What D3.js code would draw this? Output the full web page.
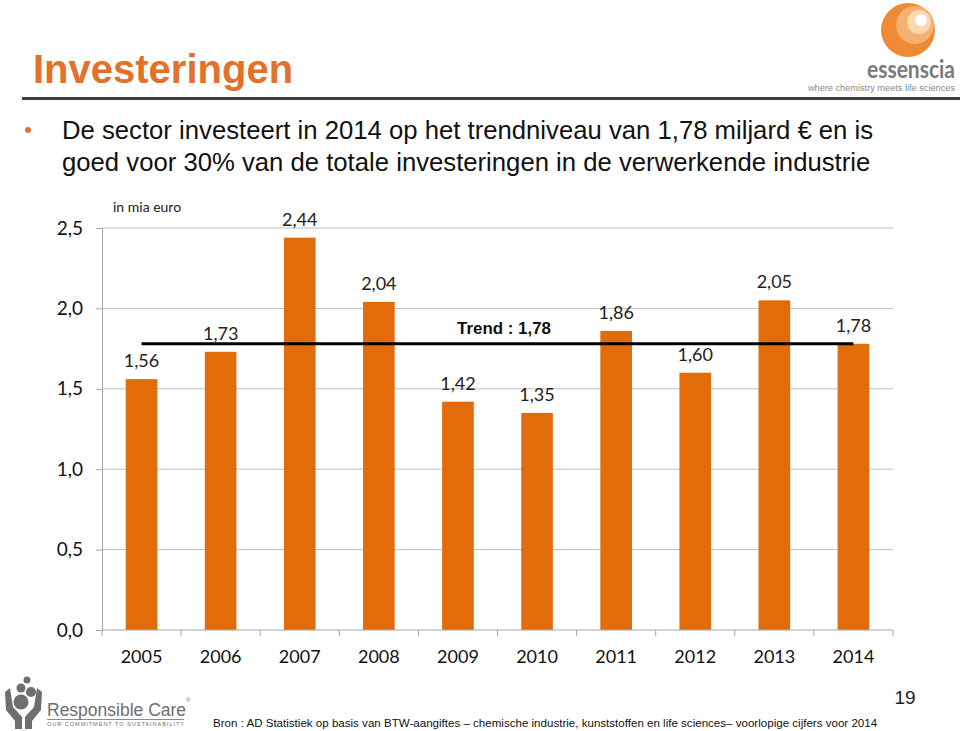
<!DOCTYPE html>
<html>
<head>
<meta charset="utf-8">
<script src="https://cdn.jsdelivr.net/npm/d3@7"></script>
<style>
  html, body { margin: 0; padding: 0; background: #fff; }
  svg { display: block; }
</style>
</head>
<body>
<svg id="chart" width="960" height="731"></svg>
<script>
// ---- data ----
const years = ["2005","2006","2007","2008","2009","2010","2011","2012","2013","2014"];
const values = [1.56, 1.73, 2.44, 2.04, 1.42, 1.35, 1.86, 1.60, 2.05, 1.78];
const trendValue = 1.78;
const yTicks = [0, 0.5, 1.0, 1.5, 2.0, 2.5];

(function () {
const svg = d3.select("#chart");
const fmt = v => d3.format(".2f")(v).replace(".", ",");
const fmt1 = v => d3.format(".1f")(v).replace(".", ",");

const calibri = "Lato, 'Open Sans', sans-serif";
const arial = "'Liberation Sans', Arial, sans-serif";
const orange = "#E36C0A";

// ---- header ----
svg.append("text").attr("x", 33).attr("y", 83)
  .attr("font-family", arial).attr("font-weight", "bold").attr("font-size", 40)
  .attr("fill", "#E2712A").text("Investeringen");
svg.append("rect").attr("x", 22).attr("y", 97).attr("width", 938).attr("height", 3).attr("fill", "#404040");

// bullet text
svg.append("circle").attr("cx", 28).attr("cy", 130).attr("r", 3).attr("fill", "#E2712A");
svg.append("text").attr("x", 62).attr("y", 139)
  .attr("font-family", arial).attr("font-size", 25.7).attr("fill", "#111")
  .text("De sector investeert in 2014 op het trendniveau van 1,78 miljard € en is");
svg.append("text").attr("x", 62).attr("y", 171)
  .attr("font-family", arial).attr("font-size", 25.7).attr("fill", "#111")
  .text("goed voor 30% van de totale investeringen in de verwerkende industrie");

// essenscia logo
const logo = svg.append("g");
logo.append("circle").attr("cx", 908).attr("cy", 30).attr("r", 27).attr("fill", "#EE8A33");
logo.append("circle").attr("cx", 915).attr("cy", 25).attr("r", 19).attr("fill", "#F6B071");
logo.append("circle").attr("cx", 919).attr("cy", 22).attr("r", 12).attr("fill", "#FBD7B2");
logo.append("circle").attr("cx", 921).attr("cy", 20).attr("r", 6).attr("fill", "#fff");
logo.append("text").attr("x", 955).attr("y", 78).attr("text-anchor", "end")
  .attr("font-family", "Lato, sans-serif").attr("font-weight", "bold").attr("font-size", 21)
  .attr("transform", "translate(955,78) scale(1,1.15) translate(-955,-78)")
  .attr("fill", "#7a7a7a").text("essenscia");
logo.append("text").attr("x", 955).attr("y", 91).attr("text-anchor", "end")
  .attr("font-family", "'Liberation Sans', sans-serif").attr("font-size", 9.2)
  .attr("fill", "#8a8a8a").text("where chemistry meets life sciences");

// ---- chart ----
const pLeft = 102, pRight = 893, pTop = 228, pBottom = 630;
const y = d3.scaleLinear().domain([0, 2.5]).range([pBottom, pTop]);
const x = d3.scaleBand().domain(years).range([pLeft, pRight]).paddingInner(0.6).paddingOuter(0.3);
const xb = d3.scaleLinear().domain([0, years.length]).range([pLeft, pRight]);

// gridlines
svg.append("g").selectAll("line").data(yTicks.filter(d => d > 0)).join("line")
  .attr("x1", pLeft).attr("x2", pRight).attr("y1", d => y(d)).attr("y2", d => y(d))
  .attr("stroke", "#BFBFBF").attr("stroke-width", 1);

// y axis
const yAxis = svg.append("g").attr("transform", `translate(${pLeft},0)`)
  .call(d3.axisLeft(y).tickValues(yTicks).tickFormat(fmt1).tickSize(6).tickPadding(13));
yAxis.select(".domain").attr("stroke", "#A6A6A6");
yAxis.selectAll(".tick line").attr("stroke", "#A6A6A6");
yAxis.selectAll(".tick text").attr("font-family", calibri).attr("font-size", 19).attr("fill", "#111");

// bars
svg.append("g").selectAll("rect").data(values).join("rect")
  .attr("x", (d, i) => x(years[i])).attr("width", x.bandwidth())
  .attr("y", d => y(d)).attr("height", d => y(0) - y(d))
  .attr("fill", orange);

// x axis
svg.append("line").attr("x1", pLeft).attr("x2", pRight).attr("y1", pBottom).attr("y2", pBottom)
  .attr("stroke", "#A6A6A6");
svg.append("g").selectAll("line").data(d3.range(years.length + 1)).join("line")
  .attr("x1", d => xb(d)).attr("x2", d => xb(d)).attr("y1", pBottom).attr("y2", pBottom + 6)
  .attr("stroke", "#A6A6A6");
svg.append("g").selectAll("text").data(years).join("text")
  .attr("x", d => x(d) + x.bandwidth() / 2).attr("y", 663).attr("text-anchor", "middle")
  .attr("font-family", calibri).attr("font-size", 18).attr("fill", "#111").text(d => d);

// value labels
svg.append("g").selectAll("text").data(values).join("text")
  .attr("x", (d, i) => x(years[i]) + x.bandwidth() / 2).attr("y", d => y(d) - 12)
  .attr("text-anchor", "middle").attr("font-family", calibri).attr("font-size", 18)
  .attr("fill", "#222").text(d => fmt(d));

// unit label
svg.append("text").attr("x", 113).attr("y", 212)
  .attr("font-family", calibri).attr("font-size", 14).attr("fill", "#222").text("in mia euro");

// trend line
svg.append("line")
  .attr("x1", x(years[0]) + x.bandwidth() / 2).attr("x2", x(years[years.length - 1]) + x.bandwidth() / 2)
  .attr("y1", y(trendValue)).attr("y2", y(trendValue))
  .attr("stroke", "#000").attr("stroke-width", 3);
svg.append("text").attr("x", 504).attr("y", y(trendValue) - 10).attr("text-anchor", "middle")
  .attr("font-family", arial).attr("font-weight", "bold").attr("font-size", 16.9)
  .attr("fill", "#111").text("Trend : " + fmt(trendValue));

// ---- footer ----
svg.append("text").attr("x", 905).attr("y", 704).attr("text-anchor", "middle")
  .attr("font-family", arial).attr("font-size", 19).attr("fill", "#222").text("19");
svg.append("text").attr("x", 213).attr("y", 727)
  .attr("font-family", arial).attr("font-size", 11.57).attr("fill", "#111")
  .text("Bron : AD Statistiek op basis van BTW-aangiftes – chemische industrie, kunststoffen en life sciences– voorlopige cijfers voor 2014");

// Responsible Care logo
const rc = svg.append("g").attr("fill", "#6d6e70");
rc.append("path").attr("d", "M5,692 L10,688 L13,707 L22,717 L22,729 L15,729 L15,721 L6,710 Z");
rc.append("path").attr("d", "M42,692 L37,688 L34,707 L25,717 L25,729 L32,729 L32,721 L41,710 Z");
rc.append("circle").attr("cx", 21).attr("cy", 702).attr("r", 7.5);
rc.append("circle").attr("cx", 31).attr("cy", 692).attr("r", 5);
rc.append("circle").attr("cx", 21).attr("cy", 688).attr("r", 4.5);
rc.append("circle").attr("cx", 27).attr("cy", 680).attr("r", 3.5);
rc.append("text").attr("x", 47).attr("y", 716)
  .attr("font-family", arial).attr("font-size", 17.5).text("Responsible Care");
rc.append("text").attr("x", 186).attr("y", 702)
  .attr("font-family", arial).attr("font-size", 6).text("®");
rc.append("rect").attr("x", 47).attr("y", 719).attr("width", 137).attr("height", 0.8);
rc.append("text").attr("x", 47).attr("y", 726)
  .attr("font-family", arial).attr("font-size", 5.6).attr("textLength", 137)
  .text("OUR COMMITMENT TO SUSTAINABILITY");
})();
</script>
</body>
</html>
